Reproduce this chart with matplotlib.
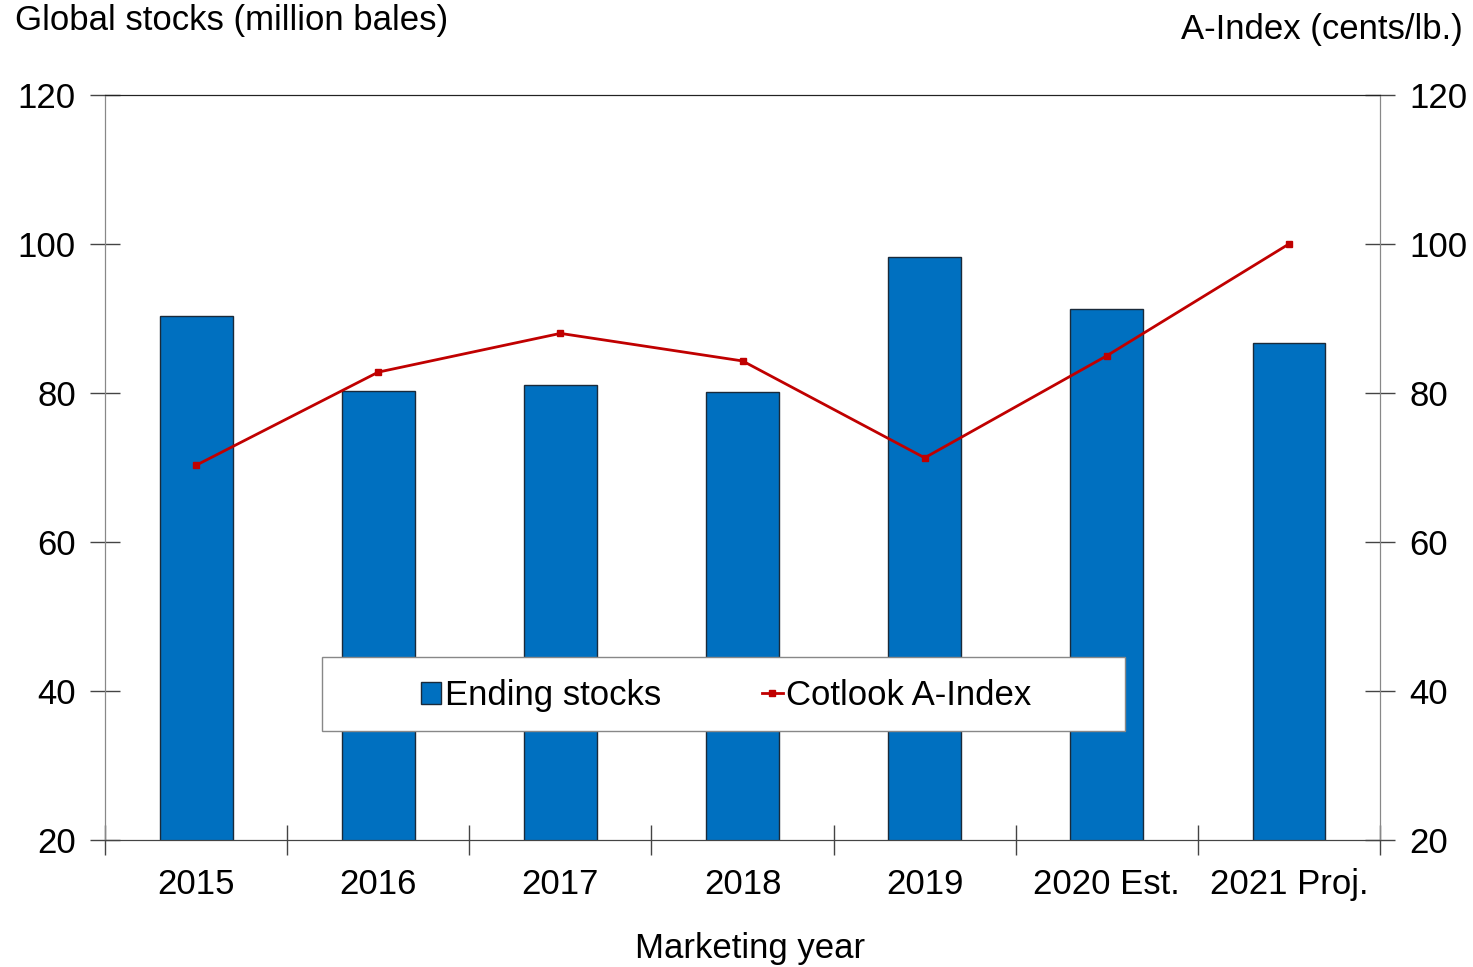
import matplotlib.pyplot as plt
import numpy as np
from matplotlib.patches import Patch, Rectangle
from matplotlib.lines import Line2D

plt.rcParams['font.family'] = ['Liberation Sans', 'DejaVu Sans']

# Data
years = ['2015', '2016', '2017', '2018', '2019', '2020 Est.', '2021 Proj.']
ending_stocks = [90.3, 80.2, 81.1, 80.1, 98.2, 91.3, 86.7]
a_index = [70.3, 82.8, 88.0, 84.3, 71.3, 85.0, 100.0]

bar_color = '#0070C0'
line_color = '#C00000'
fs = 25

fig = plt.figure(figsize=(14.73, 9.67), dpi=100)
ax = fig.add_axes([0.0713, 0.1313, 0.8656, 0.7705])
ax2 = ax.twinx()

x = np.arange(len(years))
ax.bar(x, ending_stocks, width=0.4, color=bar_color, edgecolor='#1a2a3a',
       linewidth=1.0, bottom=0, zorder=2)
ax.set_ylim(20, 120)
ax.set_xlim(-0.5, len(years) - 0.5)

ax2.plot(x, a_index, color=line_color, lw=2, marker='s', markersize=5,
         zorder=5)
ax2.set_ylim(20, 120)

# line above bars
ax2.set_zorder(ax.get_zorder() + 1)
ax2.patch.set_visible(False)

yt = [20, 40, 60, 80, 100, 120]
ax.set_yticks(yt)
ax2.set_yticks(yt)
for a in (ax, ax2):
    a.tick_params(axis='y', direction='inout', length=22, width=1,
                  labelsize=fs, pad=10, color='#444444')

# category labels at centers, ticks at boundaries
ax.set_xticks(x)
ax.set_xticklabels(years, fontsize=fs)
ax.tick_params(axis='x', which='major', length=0, pad=20)
ax.set_xticks(np.arange(-0.5, len(years)), minor=True)
ax.tick_params(axis='x', which='minor', direction='inout', length=22,
               width=1, color='#444444')

for a in (ax, ax2):
    a.spines['left'].set_color('#888888')
    a.spines['right'].set_color('#888888')
    a.spines['bottom'].set_color('#444444')
    a.spines['top'].set_color('#222222')

fig.text(0.010, 0.979, 'Global stocks (million bales)', fontsize=fs,
         ha='left', va='center')
fig.text(0.993, 0.969, 'A-Index (cents/lb.)', fontsize=fs,
         ha='right', va='center')
fig.text(0.509, 0.0196, 'Marketing year', fontsize=fs, ha='center',
         va='center')

# legend box drawn separately
box = Rectangle((0.1702, 0.1466), 0.6298, 0.0993, transform=ax2.transAxes,
                facecolor='white', edgecolor='#888888', lw=1, zorder=8)
ax2.add_patch(box)

handles = [Patch(facecolor=bar_color, edgecolor='#1a2a3a', label='Ending stocks'),
           Line2D([0], [0], color=line_color, lw=2, marker='s', markersize=4,
                  label='Cotlook A-Index')]
leg = ax2.legend(handles=handles, loc='center',
                 bbox_to_anchor=(0.487, 0.194), ncol=2, fontsize=fs,
                 frameon=False, handlelength=0.6, handleheight=0.6,
                 handletextpad=0.1, columnspacing=2.9, borderaxespad=0)
leg.set_zorder(10)

fig.savefig('out.png', dpi=100)
